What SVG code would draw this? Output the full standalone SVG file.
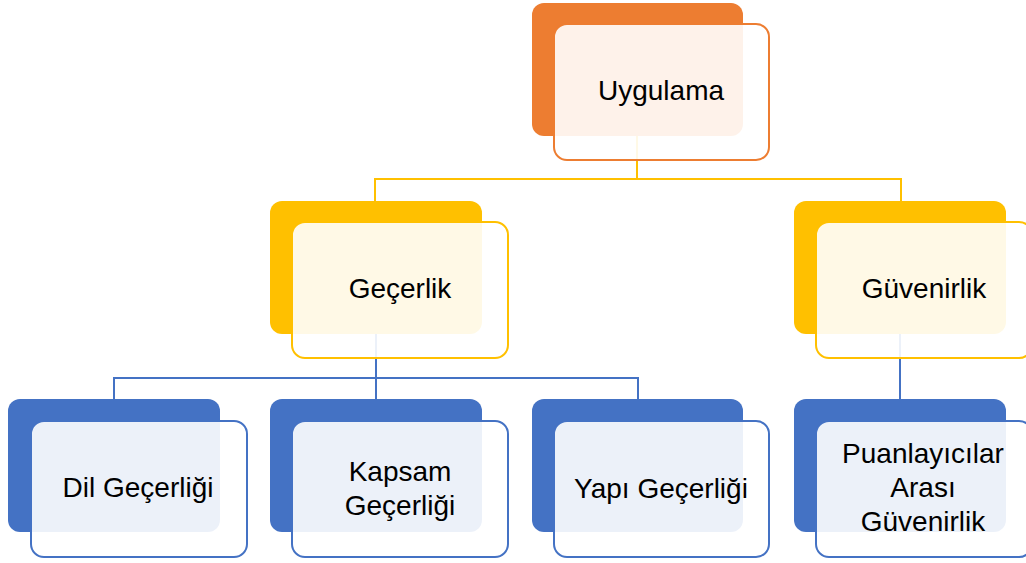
<svg xmlns="http://www.w3.org/2000/svg" width="1026" height="563" viewBox="0 0 1026 563">
<style>
.t{font-family:"Liberation Sans",Arial,sans-serif;font-size:28px;fill:#000;text-anchor:middle}
.front{fill:#fff;fill-opacity:0.9;stroke-width:2}
.c{fill:none;stroke-width:2}
</style>
<rect x="0" y="0" width="1026" height="563" fill="#fff"/>
<g id="backs">
<rect x="532" y="3" width="211" height="133" rx="12" fill="#ED7D31"/>
<rect x="270" y="201" width="212" height="133" rx="12" fill="#FFC000"/>
<rect x="794" y="201" width="212" height="133" rx="12" fill="#FFC000"/>
<rect x="8" y="399" width="212" height="133" rx="12" fill="#4472C4"/>
<rect x="270" y="399" width="212" height="133" rx="12" fill="#4472C4"/>
<rect x="532" y="399" width="211" height="133" rx="12" fill="#4472C4"/>
<rect x="794" y="399" width="212" height="133" rx="12" fill="#4472C4"/>
</g>
<g id="connectors">
<path class="c" stroke="#FFC000" d="M637,136 V179 M375,201 V179 H901 V201"/>
<path class="c" stroke="#4472C4" d="M376,334 V378 M114,399 V378 H638 V399 M376,378 V399 M900,334 V399"/>
</g>
<g id="uygulama">
<rect class="front" x="554" y="24" width="215" height="136" rx="13" stroke="#ED7D31"/>
<text class="t" x="661" y="100">Uygulama</text>
</g>
<g id="gecerlik">
<rect class="front" x="292" y="222" width="216" height="136" rx="13" stroke="#FFC000"/>
<text class="t" x="400" y="298">Geçerlik</text>
</g>
<g id="guvenirlik">
<rect class="front" x="816" y="222" width="216" height="136" rx="13" stroke="#FFC000"/>
<text class="t" x="924" y="298">Güvenirlik</text>
</g>
<g id="dil">
<rect class="front" x="31" y="421" width="216" height="136" rx="13" stroke="#4472C4"/>
<text class="t" x="138" y="497">Dil Geçerliği</text>
</g>
<g id="kapsam">
<rect class="front" x="292" y="421" width="216" height="136" rx="13" stroke="#4472C4"/>
<text class="t" x="400" y="481">Kapsam</text>
<text class="t" x="400" y="515">Geçerliği</text>
</g>
<g id="yapi">
<rect class="front" x="554" y="421" width="215" height="136" rx="13" stroke="#4472C4"/>
<text class="t" x="661" y="498">Yapı Geçerliği</text>
</g>
<g id="puanlayicilar">
<rect class="front" x="816" y="421" width="216" height="136" rx="13" stroke="#4472C4"/>
<text class="t" x="923" y="463">Puanlayıcılar</text>
<text class="t" x="923" y="497">Arası</text>
<text class="t" x="923" y="531">Güvenirlik</text>
</g>
</svg>
